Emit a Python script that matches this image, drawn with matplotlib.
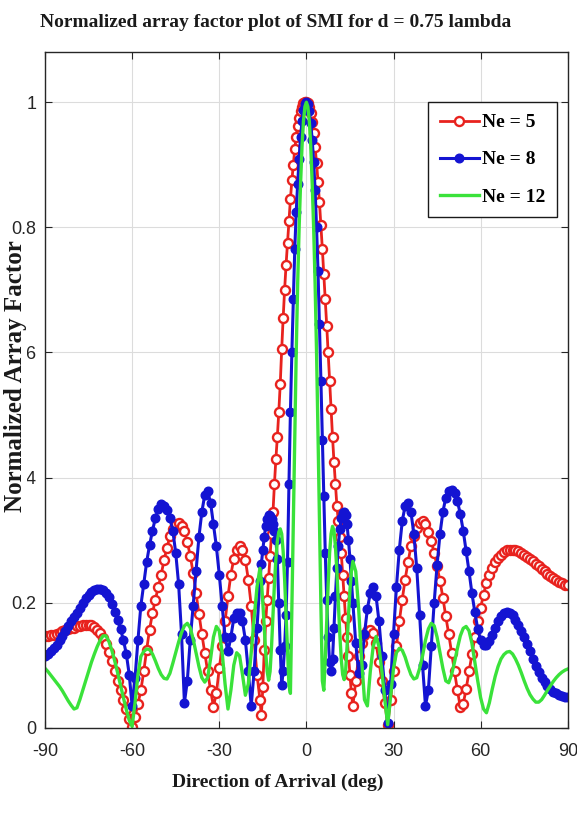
import numpy as np
import matplotlib
matplotlib.use("Agg")
import matplotlib.pyplot as plt

# angle grids: 1 deg steps in the side lobes, 0.5 deg around the main beam
ang_left = np.arange(-90, -16, 1.0)     # -90 .. -17
ang_mid = np.arange(-16, 16.5, 0.5)     # -16 .. 16
ang_right = np.arange(17, 91, 1.0)      # 17 .. 90

# Ne = 5
ne5_left = [0.146, 0.147, 0.148, 0.149, 0.150, 0.152, 0.154, 0.156, 0.158, 0.159,
            0.160, 0.162, 0.163, 0.164, 0.165, 0.165, 0.164, 0.161, 0.157, 0.152,
            0.144, 0.134, 0.121, 0.106, 0.091, 0.075, 0.061, 0.045, 0.030, 0.014,
            0.002, 0.018, 0.038, 0.060, 0.090, 0.125, 0.157, 0.183, 0.205, 0.225,
            0.245, 0.268, 0.288, 0.306, 0.318, 0.325, 0.327, 0.323, 0.314, 0.297,
            0.275, 0.248, 0.215, 0.182, 0.150, 0.120, 0.090, 0.060, 0.034, 0.055,
            0.095, 0.130, 0.170, 0.210, 0.245, 0.270, 0.285, 0.290, 0.285, 0.268,
            0.237, 0.195, 0.140, 0.085]
ne5_mid = [0.045, 0.020, 0.065, 0.125, 0.170, 0.205, 0.240, 0.275, 0.310, 0.345,
           0.390, 0.430, 0.465, 0.505, 0.550, 0.605, 0.655, 0.700, 0.740, 0.775,
           0.810, 0.845, 0.875, 0.900, 0.925, 0.945, 0.962, 0.975, 0.986, 0.993,
           0.998, 1.000, 1.000, 0.998, 0.992, 0.982, 0.968, 0.950, 0.928, 0.903,
           0.873, 0.840, 0.803, 0.765, 0.725, 0.685, 0.643, 0.600, 0.555, 0.510,
           0.465, 0.425, 0.390, 0.355, 0.330, 0.305, 0.280, 0.245, 0.210, 0.175,
           0.145, 0.115, 0.085, 0.055, 0.035]
ne5_right = [0.075, 0.115, 0.135, 0.148, 0.155, 0.157, 0.152, 0.135, 0.105, 0.075,
             0.040, 0.005, 0.045, 0.090, 0.130, 0.170, 0.205, 0.237, 0.265, 0.290,
             0.307, 0.320, 0.328, 0.330, 0.325, 0.313, 0.298, 0.280, 0.258, 0.235,
             0.208, 0.178, 0.150, 0.120, 0.090, 0.060, 0.033, 0.038, 0.062, 0.090,
             0.118, 0.145, 0.170, 0.192, 0.213, 0.232, 0.245, 0.256, 0.265, 0.272,
             0.277, 0.281, 0.284, 0.285, 0.285, 0.284, 0.282, 0.279, 0.276, 0.273,
             0.270, 0.266, 0.262, 0.258, 0.254, 0.250, 0.246, 0.242, 0.239, 0.236,
             0.233, 0.231, 0.229, 0.228]

# Ne = 8
ne8_left = [0.115, 0.118, 0.122, 0.127, 0.133, 0.140, 0.147, 0.155, 0.162, 0.170,
            0.177, 0.184, 0.192, 0.200, 0.207, 0.213, 0.217, 0.220, 0.222, 0.222,
            0.220, 0.216, 0.209, 0.198, 0.185, 0.172, 0.158, 0.140, 0.118, 0.085,
            0.035, 0.080, 0.140, 0.195, 0.230, 0.265, 0.292, 0.315, 0.335, 0.350,
            0.357, 0.355, 0.348, 0.335, 0.315, 0.280, 0.230, 0.150, 0.040, 0.075,
            0.140, 0.195, 0.250, 0.305, 0.345, 0.372, 0.378, 0.360, 0.325, 0.290,
            0.245, 0.195, 0.145, 0.122, 0.145, 0.175, 0.184, 0.183, 0.170, 0.140,
            0.090, 0.035, 0.090, 0.160]
ne8_mid = [0.235, 0.262, 0.285, 0.305, 0.322, 0.334, 0.340, 0.339, 0.333, 0.325,
           0.315, 0.300, 0.270, 0.200, 0.125, 0.068, 0.090, 0.130, 0.180, 0.265,
           0.390, 0.505, 0.600, 0.685, 0.765, 0.825, 0.870, 0.910, 0.945, 0.970,
           0.988, 0.997, 1.000, 0.997, 0.986, 0.966, 0.940, 0.905, 0.860, 0.800,
           0.730, 0.645, 0.555, 0.460, 0.370, 0.280, 0.205, 0.145, 0.105, 0.090,
           0.110, 0.160, 0.210, 0.255, 0.290, 0.318, 0.335, 0.343, 0.345, 0.340,
           0.325, 0.300, 0.270, 0.235, 0.200]
ne8_right = [0.135, 0.088, 0.100, 0.150, 0.190, 0.215, 0.225, 0.210, 0.170, 0.115,
             0.060, 0.008, 0.070, 0.150, 0.225, 0.285, 0.330, 0.355, 0.360, 0.345,
             0.310, 0.255, 0.180, 0.100, 0.035, 0.060, 0.130, 0.200, 0.260, 0.310,
             0.345, 0.368, 0.378, 0.380, 0.375, 0.362, 0.342, 0.315, 0.283, 0.250,
             0.215, 0.185, 0.158, 0.140, 0.132, 0.132, 0.138, 0.148, 0.160, 0.170,
             0.178, 0.183, 0.185, 0.184, 0.180, 0.173, 0.165, 0.155, 0.145, 0.134,
             0.122, 0.110, 0.099, 0.089, 0.080, 0.073, 0.067, 0.062, 0.058, 0.055,
             0.053, 0.051, 0.050, 0.050]

# Ne = 12
ne12_left = [0.095, 0.090, 0.084, 0.078, 0.072, 0.066, 0.059, 0.051, 0.043, 0.036,
             0.030, 0.032, 0.045, 0.060, 0.075, 0.090, 0.105, 0.118, 0.130, 0.140,
             0.147, 0.147, 0.138, 0.124, 0.107, 0.088, 0.068, 0.048, 0.029, 0.012,
             0.002, 0.040, 0.085, 0.114, 0.122, 0.126, 0.125, 0.118, 0.107, 0.095,
             0.085, 0.079, 0.078, 0.087, 0.103, 0.120, 0.137, 0.152, 0.163, 0.167,
             0.160, 0.142, 0.120, 0.098, 0.080, 0.073, 0.080, 0.110, 0.145, 0.162,
             0.155, 0.120, 0.070, 0.030, 0.060, 0.100, 0.120, 0.115, 0.085, 0.052,
             0.070, 0.120, 0.175, 0.225]
ne12_mid = [0.255, 0.235, 0.200, 0.160, 0.120, 0.090, 0.076, 0.090, 0.130, 0.180,
            0.230, 0.270, 0.298, 0.313, 0.318, 0.310, 0.282, 0.238, 0.182, 0.122,
            0.068, 0.055, 0.190, 0.330, 0.470, 0.600, 0.710, 0.800, 0.870, 0.930,
            0.970, 0.993, 1.000, 0.993, 0.970, 0.930, 0.870, 0.800, 0.710, 0.600,
            0.470, 0.330, 0.195, 0.075, 0.060, 0.110, 0.170, 0.230, 0.280, 0.310,
            0.322, 0.315, 0.290, 0.250, 0.200, 0.150, 0.110, 0.085, 0.077, 0.090,
            0.130, 0.180, 0.220, 0.250, 0.266]
ne12_right = [0.250, 0.190, 0.110, 0.045, 0.035, 0.090, 0.130, 0.146, 0.130, 0.090,
              0.045, 0.005, 0.050, 0.095, 0.120, 0.127, 0.124, 0.113, 0.098, 0.085,
              0.078, 0.080, 0.095, 0.115, 0.140, 0.158, 0.167, 0.163, 0.145, 0.120,
              0.095, 0.075, 0.072, 0.085, 0.105, 0.127, 0.147, 0.159, 0.162, 0.155,
              0.135, 0.105, 0.075, 0.048, 0.030, 0.024, 0.040, 0.062, 0.082, 0.098,
              0.110, 0.117, 0.121, 0.122, 0.118, 0.110, 0.100, 0.088, 0.075, 0.063,
              0.053, 0.046, 0.041, 0.041, 0.045, 0.052, 0.060, 0.067, 0.074, 0.080,
              0.085, 0.089, 0.092, 0.094]

x_ticks = [-90, -60, -30, 0, 30, 60, 90]
y_ticks = [0, 0.2, 0.4, 0.6, 0.8, 1]
y_tick_labels = ['0', '0.2', '0.4', '0.6', '0.8', '1']

angles = np.concatenate([ang_left, ang_mid, ang_right])
ne5 = np.concatenate([ne5_left, ne5_mid, ne5_right])
ne8 = np.concatenate([ne8_left, ne8_mid, ne8_right])
ne12 = np.concatenate([ne12_left, ne12_mid, ne12_right])

plt.rcParams['axes.unicode_minus'] = False  # plain hyphen like the original

serif = ['Liberation Serif', 'DejaVu Serif']
sans = ['Liberation Sans Narrow', 'Liberation Sans', 'DejaVu Sans']
dark = '#262626'

fig = plt.figure(figsize=(5.77, 8.15), dpi=100)
ax = fig.add_axes([0.078, 0.107, 0.906, 0.829])

ax.plot(angles, ne5, color='#e8221e', lw=2, marker='o', ms=6.5,
        mfc='white', mec='#e8221e', mew=1.7, label='Ne = 5')
ax.plot(angles, ne8, color='#1414d2', lw=2.2, marker='o', ms=6.2,
        mfc='#1414d2', mec='#1414d2', label='Ne = 8')
ax.plot(angles, ne12, color='#3ae23a', lw=2.4, label='Ne = 12')

ax.set_xlim(-90, 90)
ax.set_ylim(0, 1.08)
ax.set_xticks(x_ticks)
ax.set_yticks(y_ticks)
ax.set_yticklabels(y_tick_labels)
ax.grid(True, color='#dcdcdc', lw=0.8)
ax.set_axisbelow(True)
for s in ax.spines.values():
    s.set_color(dark)
    s.set_linewidth(1.0)
ax.tick_params(direction='in', length=5, width=0.8, color=dark,
               top=True, right=True, labelcolor=dark)
ax.tick_params(axis='x', pad=11)
ax.tick_params(axis='y', pad=6)
for lab in ax.get_xticklabels() + ax.get_yticklabels():
    lab.set_family(sans)
    lab.set_fontsize(13)

# the label sits over the "0." of the tick labels, as in the original
ax.set_ylabel('Normalized Array Factor', family=serif, fontweight='bold',
              fontsize=18, color='#1a1a1a',
              bbox=dict(facecolor='white', edgecolor='none', pad=0))
ax.yaxis.set_label_coords(-0.034, 0.52)

fig.text(0.478, 0.967, 'Normalized array factor plot of SMI for d = 0.75 lambda',
         family=serif, fontweight='bold', fontsize=14, ha='center',
         va='baseline', color='#1a1a1a')
fig.text(0.482, 0.034, 'Direction of Arrival (deg)', family=serif,
         fontweight='bold', fontsize=14, ha='center', va='baseline',
         color='#1a1a1a')

leg = ax.legend(loc='upper right', bbox_to_anchor=(0.979, 0.926),
                borderaxespad=0, numpoints=1, handlelength=2.0,
                handletextpad=0.15, labelspacing=1.0, borderpad=0.6,
                fancybox=False, framealpha=1, edgecolor='#1a1a1a',
                prop={'family': serif, 'weight': 'bold', 'size': 14})
leg.get_frame().set_linewidth(1.0)

fig.savefig('out.png', dpi=100)
